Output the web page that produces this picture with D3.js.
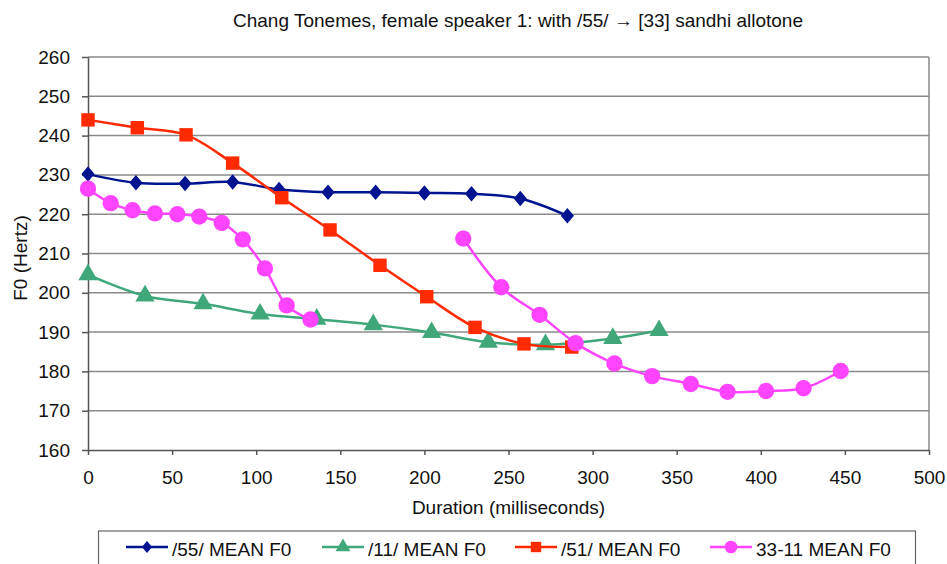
<!DOCTYPE html>
<html lang="en">
<head>
  <meta charset="UTF-8">
  <title>Chang Tonemes</title>
  <script src="https://d3js.org/d3.v7.min.js"></script>
  <style>
    body { margin: 0; background: #fff; }
    text { font-family: "Liberation Sans", Arial, sans-serif; fill: #111; }
    .grid line { stroke: #8a8a8a; stroke-width: 1.5; }
    .axis path, .axis line { stroke: #555; stroke-width: 1.5; }
  </style>
</head>
<body>
<script>
// tick labels
var xTicks = [0, 50, 100, 150, 200, 250, 300, 350, 400, 450, 500];
var yTicks = [160, 170, 180, 190, 200, 210, 220, 230, 240, 250, 260];

// /55/ MEAN F0
var x55 = [0, 28.5, 57.7, 86, 113.6, 142.7, 171, 200, 228, 257, 285];
var y55 = [230.2, 228, 227.8, 228.2, 226.3, 225.6, 225.6, 225.4, 225.2, 224, 219.6];
// /11/ MEAN F0
var x11 = [0, 33.9, 68.4, 102.3, 136, 169.6, 204.3, 238, 272, 312, 339.5];
var y11 = [204.6, 199.2, 197.2, 194.6, 193.3, 191.9, 189.9, 187.4, 186.8, 188.4, 190.4];
// /51/ MEAN F0
var x51 = [0, 29.3, 58.3, 86, 115.2, 143.9, 173.6, 201.4, 230.1, 259.2, 287.6];
var y51 = [244, 242, 240.2, 233, 224.2, 216, 207, 199, 191.2, 187, 186.2];
// 33-11 MEAN F0 (null = break in the line)
var x3311 = [0, 13.5, 26.5, 39.8, 53.1, 66.2, 79.5, 92, 105.2, 118.1, 132.3, null,
             223.1, 245.7, 268.5, 289.9, 313, 335.4, 358.4, 380.2, 403.1, 425.4, 447.5];
var y3311 = [226.5, 222.8, 221, 220.2, 220, 219.4, 217.8, 213.6, 206.2, 196.8, 193.2, null,
             213.8, 201.4, 194.4, 187.2, 182, 178.8, 176.8, 174.8, 175, 175.7, 180.1];

var seriesNames = ["/55/ MEAN F0", "/11/ MEAN F0", "/51/ MEAN F0", "33-11 MEAN F0"];
var colors = ["#001490", "#3fa77a", "#ff2a00", "#ff44ff"];
var shapes = [d3.symbolSquare, d3.symbolTriangle, d3.symbolSquare, d3.symbolCircle];
var symbolSizes = [120, 160, 180, 210];

var W = 947, H = 564;
var margin = {top: 57, right: 18, bottom: 114, left: 88};
var width = W - margin.left - margin.right;
var height = H - margin.top - margin.bottom;

var svg = d3.select("body").append("svg")
    .attr("width", W).attr("height", H);

svg.append("text")
    .attr("x", 518).attr("y", 27)
    .attr("text-anchor", "middle")
    .style("font-size", "19px")
    .text("Chang Tonemes, female speaker 1: with /55/ \u2192 [33] sandhi allotone");

var g = svg.append("g")
    .attr("transform", "translate(" + margin.left + "," + margin.top + ")");

var xScale = d3.scaleLinear().domain([0, 500]).range([0, width]);
var yScale = d3.scaleLinear().domain([160, 260]).range([height, 0]);

// horizontal grid lines
g.append("g").attr("class", "grid")
  .selectAll("line")
  .data(yTicks.slice(1))
  .enter().append("line")
    .attr("x1", 0).attr("x2", width)
    .attr("y1", function(d) { return yScale(d); })
    .attr("y2", function(d) { return yScale(d); });

// right border
g.append("line")
    .attr("x1", width).attr("x2", width)
    .attr("y1", 0).attr("y2", height)
    .style("stroke", "#8a8a8a").style("stroke-width", 1.5);

g.append("g").attr("class", "axis")
    .attr("transform", "translate(0," + height + ")")
    .call(d3.axisBottom(xScale).tickValues(xTicks).tickSize(5).tickSizeOuter(0).tickPadding(16));
g.append("g").attr("class", "axis")
    .call(d3.axisLeft(yScale).tickValues(yTicks).tickSize(6).tickSizeOuter(0).tickPadding(12));
g.selectAll(".axis text")
    .style("font-size", "19px")
    .style("font-family", "Liberation Sans, Arial, sans-serif")
    .style("fill", "#111");

svg.append("text")
    .attr("x", margin.left + width / 2).attr("y", 514)
    .attr("text-anchor", "middle")
    .style("font-size", "19px")
    .text("Duration (milliseconds)");

svg.append("text")
    .attr("transform", "translate(27,258) rotate(-90)")
    .attr("text-anchor", "middle")
    .style("font-size", "19px")
    .text("F0 (Hertz)");

var allX = [x55, x11, x51, x3311];
var allY = [y55, y11, y51, y3311];

var line = d3.line()
    .defined(function(d) { return d[0] !== null; })
    .x(function(d) { return xScale(d[0]); })
    .y(function(d) { return yScale(d[1]); })
    .curve(d3.curveCatmullRom.alpha(0.5));

allX.forEach(function(xs, i) {
  var pts = xs.map(function(x, j) { return [x, allY[i][j]]; });
  g.append("path")
      .attr("d", line(pts))
      .style("fill", "none")
      .style("stroke", colors[i])
      .style("stroke-width", 2.5);
  g.selectAll(".pt" + i)
    .data(pts.filter(function(p) { return p[0] !== null; }))
    .enter().append("path")
      .attr("class", "pt" + i)
      .attr("transform", function(d) {
        return "translate(" + xScale(d[0]) + "," + yScale(d[1]) + ")" + (i === 0 ? " scale(0.85,1) rotate(45)" : "");
      })
      .attr("d", d3.symbol().type(shapes[i]).size(symbolSizes[i]))
      .style("fill", colors[i]);
});

// legend
var legend = svg.append("g");
legend.append("rect")
    .attr("x", 98.5).attr("y", 531)
    .attr("width", 817).attr("height", 50)
    .style("fill", "#fff").style("stroke", "#666").style("stroke-width", 1.2);

var legendX = [126, 322, 515, 710];
seriesNames.forEach(function(name, i) {
  var lg = legend.append("g").attr("transform", "translate(" + legendX[i] + ",547)");
  lg.append("line")
      .attr("x1", 0).attr("x2", 42)
      .style("stroke", colors[i]).style("stroke-width", 2.5);
  lg.append("path")
      .attr("transform", "translate(21,0)" + (i === 0 ? " scale(0.85,1) rotate(45)" : ""))
      .attr("d", d3.symbol().type(shapes[i]).size(symbolSizes[i] * 0.6))
      .style("fill", colors[i]);
  lg.append("text")
      .attr("x", 46).attr("y", 9)
      .style("font-size", "19px")
      .text(name);
});
</script>
</body>
</html>
